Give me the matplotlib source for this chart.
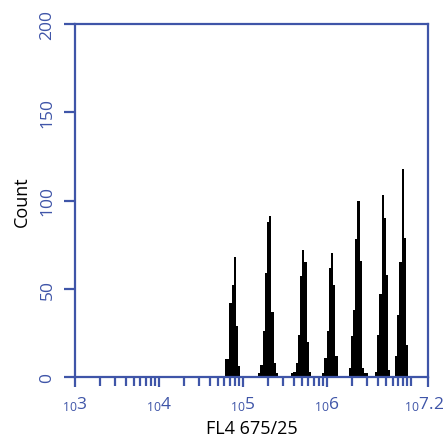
import numpy as np
import matplotlib
matplotlib.use('Agg')
import matplotlib.pyplot as plt
from matplotlib.ticker import NullFormatter
from matplotlib.transforms import ScaledTranslation

# log10 range of the channel axis and number of bins
x_lo, x_hi = 3.0, 7.2
n_bins = 160

# each peak: first bin index and the counts that follow
peak_start = [68, 83, 98, 112, 124, 136, 145]
peak_counts = [
    [10, 10, 42, 52, 68, 29, 6],
    [2, 7, 26, 59, 88, 91, 37, 8, 2],
    [2, 3, 8, 24, 57, 72, 65, 20, 3],
    [2, 11, 26, 62, 70, 52, 12],
    [5, 23, 38, 78, 100, 66, 5, 2, 2],
    [3, 24, 47, 103, 90, 58, 4],
    [12, 35, 65, 118, 79, 18],
]

major_exps = [3, 4, 5, 6, 7.2]
major_labels = ['3', '4', '5', '6', '7.2']
y_ticks = [0, 50, 100, 150, 200]

blue = '#3f55a8'

plt.rcParams['font.family'] = ['Open Sans', 'DejaVu Sans']
plt.rcParams['mathtext.default'] = 'regular'

counts = np.zeros(n_bins)
for start, vals in zip(peak_start, peak_counts):
    counts[start:start + len(vals)] = vals
edges = 10 ** np.linspace(x_lo, x_hi, n_bins + 1)

fig = plt.figure(figsize=(4.43, 4.39), dpi=100)
ax = fig.add_axes([75 / 443, 61 / 439, 353 / 443, 353 / 439])

ax.stairs(counts, edges, fill=True, color='black', linewidth=0)

ax.set_xscale('log')
ax.set_xlim(10 ** x_lo, 10 ** x_hi)
ax.set_ylim(0, 200)

ax.set_xticks([10 ** e for e in major_exps])
ax.set_xticklabels(['$_{10}$' + s for s in major_labels])
minor = [m * 10 ** d for d in range(3, 7) for m in range(2, 10)] + [1e7]
ax.set_xticks(minor, minor=True)
ax.xaxis.set_minor_formatter(NullFormatter())

ax.set_yticks(y_ticks)
ax.set_yticklabels([str(v) for v in y_ticks], rotation=90, va='center')

for sp in ax.spines.values():
    sp.set_color(blue)
    sp.set_linewidth(1.6)

ax.tick_params(axis='both', which='major', direction='out', color=blue,
               labelcolor=blue, width=1.6, labelsize=12.5)
ax.tick_params(axis='x', which='major', length=7.5, pad=5)
ax.tick_params(axis='y', which='major', length=8, pad=6)
ax.tick_params(axis='x', which='minor', direction='out', color=blue,
               width=1.6, length=6.5)

# pull the last label (10^7.2) in a little so it stays on the canvas
last = ax.get_xticklabels()[-1]
last.set_transform(last.get_transform() + ScaledTranslation(-4 / 100, 0, fig.dpi_scale_trans))

ax.set_xlabel('FL4 675/25', fontsize=13, labelpad=4)
ax.set_ylabel('Count', fontsize=13, labelpad=6)

fig.savefig('out.png', dpi=100)
